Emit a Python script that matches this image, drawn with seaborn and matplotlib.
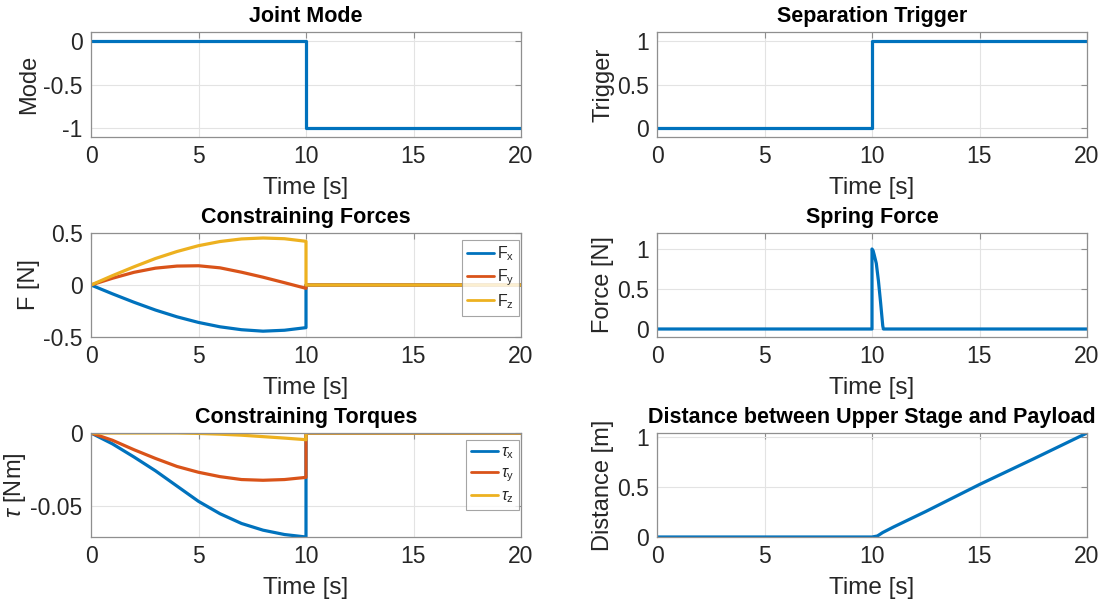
import numpy as np
import pandas as pd
import matplotlib
matplotlib.use("Agg")
import matplotlib.pyplot as plt
import seaborn as sns
from matplotlib.ticker import FuncFormatter

# ---------------- data ----------------
step_time = [0, 10, 10, 20]
joint_mode = [0, 0, -1, -1]
trigger = [0, 0, 1, 1]

force_time = [0, 1, 2, 3, 4, 5, 6, 7, 8, 9, 10, 10, 20]
fx = [0, -0.085, -0.166, -0.241, -0.306, -0.36, -0.402, -0.43, -0.444, -0.435, -0.41, 0, 0]
fy = [0, 0.065, 0.122, 0.162, 0.182, 0.185, 0.165, 0.123, 0.075, 0.022, -0.032, 0, 0]
fz = [0, 0.09, 0.175, 0.255, 0.322, 0.378, 0.418, 0.443, 0.452, 0.445, 0.42, 0, 0]

spring_time = [0, 10, 10, 10.05, 10.1, 10.2, 10.3, 10.4, 10.5, 10.53, 20]
spring_force = [0, 0, 1.0, 0.98, 0.93, 0.82, 0.6, 0.33, 0.04, 0, 0]

torque_time = [0, 1, 2, 3, 4, 5, 6, 7, 8, 9, 10, 10, 20]
tau_x = [0, -0.0075, -0.0165, -0.026, -0.0365, -0.047, -0.0555, -0.0622, -0.0668, -0.0698, -0.0715, 0, 0]
tau_y = [0, -0.005, -0.0115, -0.0175, -0.023, -0.027, -0.030, -0.032, -0.0325, -0.032, -0.0305, 0, 0]
tau_z = [0, 0, 0, 0, 0, -0.0003, -0.0008, -0.0015, -0.0025, -0.0035, -0.0046, 0, 0]

dist_time = [0, 10, 10.25, 10.5, 11, 12.5, 15, 17.5, 20]
distance = [0, 0, 0.01, 0.045, 0.1, 0.255, 0.525, 0.78, 1.04]

xticks = [0, 5, 10, 15, 20]

# ---------------- style ----------------
sns.set_theme(style="white")
plt.rcParams['font.family'] = ['Liberation Sans', 'DejaVu Sans']
plt.rcParams['axes.unicode_minus'] = False
plt.rcParams['mathtext.fontset'] = 'custom'
plt.rcParams['mathtext.rm'] = 'Liberation Sans'
plt.rcParams['mathtext.it'] = 'Liberation Sans:italic'

C1, C2, C3 = '#0072BD', '#D95319', '#EDB120'
TXT = '#262626'
LW = 2.3

fig = plt.figure(figsize=(11.06, 6.03), dpi=100)
W, H = 1106, 603

def make_ax(x0, y_top, y_bot, x1):
    return fig.add_axes([x0 / W, 1 - y_bot / H, (x1 - x0) / W, (y_bot - y_top) / H])

lx0, lx1 = 91, 521
rx0, rx1 = 657, 1087
rows = [(32, 137), (233, 337), (433, 537)]

fmt = FuncFormatter(lambda v, p: ('%g' % v))

def style(ax, title, ylabel, ylim, yticks):
    ax.set_xlim(0, 20)
    ax.set_ylim(*ylim)
    ax.set_xticks(xticks)
    ax.set_yticks(yticks)
    ax.xaxis.set_major_formatter(fmt)
    ax.yaxis.set_major_formatter(fmt)
    ax.grid(True, color='#e3e3e3', linewidth=0.8)
    ax.set_axisbelow(True)
    for s in ax.spines.values():
        s.set_color('#8f8f8f')
        s.set_linewidth(0.9)
        s.set_visible(True)
    ax.tick_params(direction='in', length=4, width=0.8, color='#8f8f8f',
                   labelsize=16.5, labelcolor=TXT, top=True, right=True, pad=6)
    ax.set_title(title, fontsize=15.5, fontweight='bold', color='black', pad=7)
    ax.set_xlabel('Time [s]', fontsize=17.5, color=TXT, labelpad=6)
    ax.set_ylabel(ylabel, fontsize=17, color=TXT, labelpad=2)

def line(ax, t, v, c, label=None):
    df = pd.DataFrame({'t': t, 'v': v})
    sns.lineplot(data=df, x='t', y='v', ax=ax, color=c, linewidth=LW,
                 estimator=None, sort=False, label=label)

def legend(ax):
    leg = ax.legend(loc='upper right', fontsize=11.5, frameon=True, fancybox=False,
                    edgecolor='#8f8f8f', handlelength=1.7, borderpad=0.3,
                    labelspacing=0.25, borderaxespad=0.0, handletextpad=0.15,
                    bbox_to_anchor=(1 - 2 / 430, 1 - 7 / 104))
    leg.get_frame().set_linewidth(0.8)
    for l in leg.get_lines():
        l.set_linewidth(2)

# Joint mode
ax = make_ax(lx0, rows[0][0], rows[0][1], lx1)
line(ax, step_time, joint_mode, C1)
style(ax, 'Joint Mode', 'Mode', (-1.1, 0.1), [-1, -0.5, 0])

# Separation trigger
ax = make_ax(rx0, rows[0][0], rows[0][1], rx1)
line(ax, step_time, trigger, C1)
style(ax, 'Separation Trigger', 'Trigger', (-0.1, 1.1), [0, 0.5, 1])

# Constraining forces
ax = make_ax(lx0, rows[1][0], rows[1][1], lx1)
line(ax, force_time, fx, C1, r'$\mathrm{F_x}$')
line(ax, force_time, fy, C2, r'$\mathrm{F_y}$')
line(ax, force_time, fz, C3, r'$\mathrm{F_z}$')
style(ax, 'Constraining Forces', 'F [N]', (-0.5, 0.5), [-0.5, 0, 0.5])
legend(ax)

# Spring force
ax = make_ax(rx0, rows[1][0], rows[1][1], rx1)
line(ax, spring_time, spring_force, C1)
style(ax, 'Spring Force', 'Force [N]', (-0.1, 1.2), [0, 0.5, 1])

# Constraining torques
ax = make_ax(lx0, rows[2][0], rows[2][1], lx1)
line(ax, torque_time, tau_x, C1, r'$\tau_\mathrm{x}$')
line(ax, torque_time, tau_y, C2, r'$\tau_\mathrm{y}$')
line(ax, torque_time, tau_z, C3, r'$\tau_\mathrm{z}$')
style(ax, 'Constraining Torques', r'$\tau$ [Nm]', (-0.0715, 0.0), [-0.05, 0])
legend(ax)

# Distance
ax = make_ax(rx0, rows[2][0], rows[2][1], rx1)
line(ax, dist_time, distance, C1)
style(ax, 'Distance between Upper Stage and Payload', 'Distance [m]', (0, 1.04), [0, 0.5, 1])

fig.savefig('out.png', dpi=100)
